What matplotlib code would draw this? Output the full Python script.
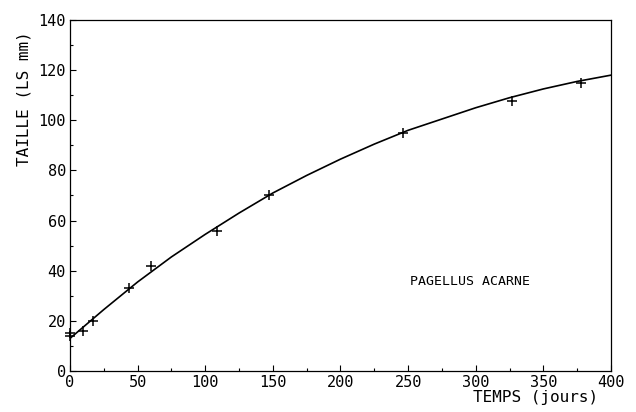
import matplotlib
matplotlib.use("Agg")
import matplotlib.pyplot as plt
from matplotlib.ticker import MultipleLocator

# observed sizes (days, standard length mm)
obs_days = [0, 0, 10, 17, 44, 60, 109, 147, 246, 327, 378]
obs_size = [15, 14, 16, 20, 33, 42, 56, 70, 95, 107.5, 115]

# fitted growth curve
curve_days = [0, 25, 50, 75, 100, 125, 150, 175, 200, 225, 250, 275, 300, 325, 350, 375, 400]
curve_size = [13, 24.5, 35.5, 45.5, 54.5, 63, 71, 78, 84.5, 90.5, 96, 100.5, 105, 109, 112.5, 115.5, 118]

x_ticks = [0, 50, 100, 150, 200, 250, 300, 350, 400]
y_ticks = [0, 20, 40, 60, 80, 100, 120, 140]

plt.rcParams['font.family'] = ['DejaVu Sans Mono']

fig = plt.figure(figsize=(6.36, 4.12), dpi=100)
ax = fig.add_axes([0.110, 0.0995, 0.8507, 0.852])

ax.plot(curve_days, curve_size, color='black', linewidth=1.2)
ax.plot(obs_days, obs_size, linestyle='none', marker='+', markersize=7,
        markeredgewidth=1.1, color='black', clip_on=False)

ax.set_xlim(0, 400)
ax.set_ylim(0, 140)
ax.set_xticks(x_ticks)
ax.set_yticks(y_ticks)
ax.xaxis.set_minor_locator(MultipleLocator(25))
ax.yaxis.set_minor_locator(MultipleLocator(10))
ax.tick_params(which='both', direction='in', width=0.8, labelsize=11)
ax.tick_params(which='major', length=4, pad=3)
ax.tick_params(which='minor', length=2)
for s in ax.spines.values():
    s.set_linewidth(0.9)

ax.text(296, 35.5, 'PAGELLUS ACARNE', fontsize=9.5, ha='center', va='center')
fig.text(0.038, 0.76, 'TAILLE (LS mm)', rotation=90, fontsize=11.5,
         ha='center', va='center')
fig.text(0.842, 0.017, 'TEMPS (jours)', fontsize=11.5, ha='center', va='bottom')

fig.savefig('out.png', dpi=100)
